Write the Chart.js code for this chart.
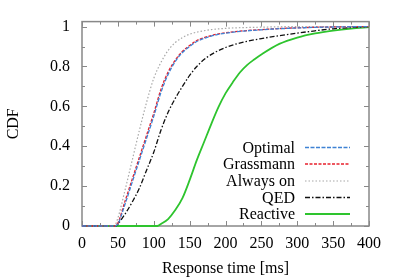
<!DOCTYPE html>
<html>
<head>
<meta charset="utf-8">
<script src="https://cdn.jsdelivr.net/npm/chart.js@4/dist/chart.umd.min.js"></script>
<style>
  html, body { margin: 0; padding: 0; background: #fff; }
  #wrap { width: 399px; height: 279px; }
</style>
</head>
<body>
<div id="wrap"><canvas id="cdfChart" width="399" height="279"></canvas></div>
<script>
// response time [ms] -> CDF
const optimalX = [0, 45, 50, 60, 70, 80, 90, 100, 110, 120, 130, 140, 150, 160, 180, 200, 250, 300, 350, 400];
const optimalY = [0, 0, 0.01, 0.11, 0.22, 0.33, 0.44, 0.55, 0.67, 0.76, 0.825, 0.87, 0.9, 0.925, 0.952, 0.967, 0.984, 0.993, 0.998, 1];

const grassmannX = [0, 45, 50, 60, 70, 80, 90, 100, 110, 120, 130, 140, 150, 160, 180, 200, 250, 300, 350, 400];
const grassmannY = [0, 0, 0.015, 0.125, 0.235, 0.345, 0.455, 0.565, 0.685, 0.772, 0.832, 0.876, 0.905, 0.93, 0.955, 0.969, 0.985, 0.994, 0.998, 1];

const alwaysOnX = [0, 45, 50, 60, 70, 80, 90, 100, 110, 120, 130, 140, 150, 175, 200, 250, 300, 400];
const alwaysOnY = [0, 0, 0.04, 0.18, 0.33, 0.48, 0.62, 0.74, 0.82, 0.88, 0.92, 0.945, 0.962, 0.982, 0.991, 0.997, 1, 1];

const qedX = [0, 47, 50, 60, 70, 80, 90, 100, 110, 120, 130, 140, 150, 160, 175, 200, 225, 250, 275, 300, 325, 350, 375, 400];
const qedY = [0, 0, 0.01, 0.06, 0.12, 0.19, 0.28, 0.37, 0.48, 0.57, 0.64, 0.7, 0.755, 0.8, 0.848, 0.895, 0.922, 0.94, 0.954, 0.967, 0.979, 0.989, 0.995, 1];

const reactiveX = [0, 105, 110, 120, 130, 140, 150, 160, 170, 180, 190, 200, 210, 220, 230, 240, 250, 275, 300, 325, 350, 375, 400];
const reactiveY = [0, 0, 0.01, 0.035, 0.08, 0.14, 0.23, 0.33, 0.42, 0.51, 0.595, 0.665, 0.72, 0.77, 0.807, 0.835, 0.86, 0.913, 0.945, 0.966, 0.98, 0.99, 0.997];

const xTicks = [0, 50, 100, 150, 200, 250, 300, 350, 400];
const yTicks = [0, 0.2, 0.4, 0.6, 0.8, 1];

const serif = "'Liberation Serif', 'DejaVu Serif', serif";

function points(xs, ys) {
  return xs.map((x, i) => ({ x, y: ys[i] }));
}

function series(label, xs, ys, color, dash, width) {
  return {
    label,
    data: points(xs, ys),
    borderColor: color,
    backgroundColor: color,
    borderDash: dash,
    borderWidth: width,
    pointRadius: 0,
    cubicInterpolationMode: "monotone",
    fill: false,
    clip: 2,
  };
}

// gnuplot style frame with inward ticks on all sides
const framePlugin = {
  id: "frame",
  beforeDatasetsDraw(chart) {
    const { ctx, chartArea: a, scales } = chart;
    ctx.save();
    ctx.strokeStyle = "#888";
    ctx.lineWidth = 1;
    ctx.beginPath();
    for (let v = 0; v <= 400; v += 25) {
      const px = Math.round(scales.x.getPixelForValue(v)) + 0.5;
      const len = v % 50 === 0 ? 5 : 3;
      ctx.moveTo(px, a.bottom); ctx.lineTo(px, a.bottom - len);
      ctx.moveTo(px, a.top); ctx.lineTo(px, a.top + len);
    }
    for (let i = 0; i <= 10; i++) {
      const py = Math.round(scales.y.getPixelForValue(i / 10)) + 0.5;
      const len = i % 2 === 0 ? 5 : 3;
      ctx.moveTo(a.left, py); ctx.lineTo(a.left + len, py);
      ctx.moveTo(a.right, py); ctx.lineTo(a.right - len, py);
    }
    ctx.stroke();
    ctx.lineWidth = 1.5;
    ctx.strokeRect(a.left, a.top, a.right - a.left, a.bottom - a.top);
    ctx.restore();
  },
};

// legend: text right aligned, sample line after it
const keyPlugin = {
  id: "key",
  afterDatasetsDraw(chart) {
    const { ctx } = chart;
    const rowY = [147.5, 164, 181, 197.5, 214];
    ctx.save();
    ctx.font = "16px " + serif;
    ctx.textAlign = "right";
    ctx.textBaseline = "middle";
    chart.data.datasets.forEach((ds, i) => {
      const y = rowY[i];
      ctx.fillStyle = "#000";
      ctx.fillText(ds.label, 295, y + 1);
      ctx.strokeStyle = ds.borderColor;
      ctx.lineWidth = ds.borderWidth;
      ctx.setLineDash(ds.borderDash);
      ctx.beginPath();
      ctx.moveTo(305, y);
      ctx.lineTo(350, y);
      ctx.stroke();
    });
    ctx.restore();
  },
};

new Chart(document.getElementById("cdfChart"), {
  type: "line",
  data: {
    datasets: [
      series("Optimal", optimalX, optimalY, "#3f82d4", [4, 1.5], 1.3),
      series("Grassmann", grassmannX, grassmannY, "#e8202c", [3, 1.5], 1.3),
      series("Always on", alwaysOnX, alwaysOnY, "#a8a8a8", [1.5, 2], 1.2),
      series("QED", qedX, qedY, "#111", [5, 2, 1.5, 2], 1.3),
      series("Reactive", reactiveX, reactiveY, "#2ec42e", [], 1.8),
    ],
  },
  options: {
    responsive: false,
    animation: false,
    layout: { padding: { top: 20, right: 30, left: 0, bottom: 0 } },
    plugins: { legend: { display: false }, tooltip: { enabled: false } },
    scales: {
      x: {
        type: "linear",
        min: 0,
        max: 400,
        grid: { display: false, drawTicks: false },
        border: { display: false },
        afterBuildTicks: (s) => { s.ticks = xTicks.map((v) => ({ value: v })); },
        afterFit: (s) => { s.height = 53; },
        ticks: { color: "#000", padding: 8, maxRotation: 0, font: { family: serif, size: 16 } },
        title: {
          display: true,
          text: "Response time [ms]",
          color: "#000",
          padding: { top: 0, bottom: 1 },
          font: { family: serif, size: 16 },
        },
      },
      y: {
        type: "linear",
        min: 0,
        max: 1.025,
        grid: { display: false, drawTicks: false },
        border: { display: false },
        afterBuildTicks: (s) => { s.ticks = yTicks.map((v) => ({ value: v })); },
        afterFit: (s) => { s.width = 82; },
        ticks: {
          color: "#000",
          padding: 12,
          font: { family: serif, size: 16 },
          callback: (v) => String(Math.round(v * 10) / 10),
        },
        title: {
          display: true,
          text: "CDF",
          color: "#000",
          padding: { top: 4, bottom: 0 },
          font: { family: serif, size: 16 },
        },
      },
    },
  },
  plugins: [framePlugin, keyPlugin],
});
</script>
</body>
</html>
